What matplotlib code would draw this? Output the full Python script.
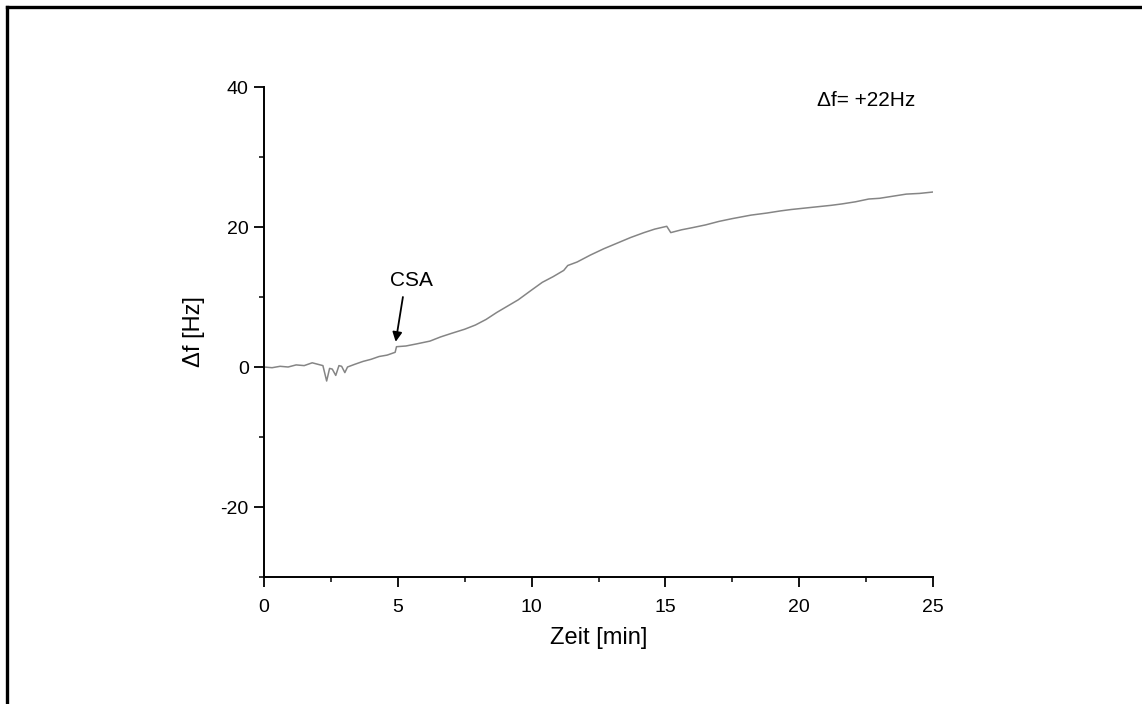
import matplotlib
matplotlib.use('Agg')
import matplotlib.pyplot as plt
from matplotlib.lines import Line2D
from matplotlib.ticker import MultipleLocator

plt.rcParams['font.family'] = ['Liberation Sans', 'DejaVu Sans']
plt.rcParams['axes.unicode_minus'] = False

# QCM frequency shift over time
time_min = [
  0.0, 0.3, 0.6, 0.9, 1.2, 1.5, 1.8, 2.0, 2.2, 2.34, 2.45, 2.55, 2.68, 2.8,
  2.9, 3.02, 3.12, 3.4, 3.7, 4.0, 4.3, 4.6, 4.9, 4.95, 5.3, 5.7, 6.2, 6.6,
  7.0, 7.5, 7.9, 8.3, 8.7, 9.1, 9.5, 10.0, 10.4, 10.8, 11.2, 11.35, 11.7,
  12.2, 12.7, 13.2, 13.7, 14.2, 14.6, 15.05, 15.2, 15.6, 16.0, 16.5, 17.0,
  17.5, 18.2, 18.8, 19.3, 19.7, 20.2, 20.7, 21.2, 21.6, 22.1, 22.6, 23.0,
  23.5, 24.0, 24.5, 25.0,
]
delta_f = [
  0.0, -0.1, 0.1, 0.0, 0.3, 0.2, 0.6, 0.4, 0.2, -2.0, -0.2, -0.3, -1.2, 0.2,
  0.1, -0.8, 0.0, 0.4, 0.8, 1.1, 1.5, 1.7, 2.1, 2.9, 3.0, 3.3, 3.7, 4.3,
  4.8, 5.4, 6.0, 6.8, 7.8, 8.7, 9.6, 11.0, 12.1, 12.9, 13.8, 14.5, 15.0,
  16.0, 16.9, 17.7, 18.5, 19.2, 19.7, 20.1, 19.2, 19.6, 19.9, 20.3, 20.8,
  21.2, 21.7, 22.0, 22.3, 22.5, 22.7, 22.9, 23.1, 23.3, 23.6, 24.0, 24.1,
  24.4, 24.7, 24.8, 25.0,
]

csa_time = 4.92
csa_value = 3.6
total_shift = '+22Hz'

fig = plt.figure(figsize=(11.42, 7.04), dpi=100)
ax = fig.add_axes([0.2312, 0.1804, 0.5858, 0.696])

ax.plot(time_min, delta_f, color='#858585', linewidth=1.1)

ax.set_xlim(0, 25)
ax.set_ylim(-30, 40)
ax.xaxis.set_major_locator(MultipleLocator(5))
ax.xaxis.set_minor_locator(MultipleLocator(2.5))
ax.yaxis.set_major_locator(MultipleLocator(20))
ax.yaxis.set_minor_locator(MultipleLocator(10))

for side in ('top', 'right'):
  ax.spines[side].set_visible(False)
for side in ('left', 'bottom'):
  ax.spines[side].set_linewidth(1.4)

ax.tick_params(which='major', direction='out', length=7, width=1.3, labelsize=14, pad=4)
ax.tick_params(which='minor', direction='out', length=3.6, width=1.1)
ax.tick_params(axis='x', which='major', pad=9)

ax.set_xlabel('Zeit [min]', fontsize=17, labelpad=8)
ax.set_ylabel('Δf [Hz]', fontsize=17, labelpad=11)

# injection marker
ax.text(5.52, 12.4, 'CSA', ha='center', va='center', fontsize=15)
ax.annotate(
  '',
  xy=(csa_time, csa_value),
  xytext=(5.19, 10.0),
  arrowprops=dict(arrowstyle='-|>', color='black', lw=1.3, mutation_scale=14, shrinkA=0, shrinkB=0),
)
ax.text(0.973, 0.973, f'Δf= {total_shift}', transform=ax.transAxes,
        ha='right', va='center', fontsize=15)

# frame around the whole figure (top and left edges)
fig.add_artist(Line2D([7 / 1142, 1], [1 - 7 / 704, 1 - 7 / 704], transform=fig.transFigure, color='black', linewidth=2.4))
fig.add_artist(Line2D([7 / 1142, 7 / 1142], [0, 1 - 7 / 704], transform=fig.transFigure, color='black', linewidth=2.4))

fig.savefig('out.png', dpi=100)
